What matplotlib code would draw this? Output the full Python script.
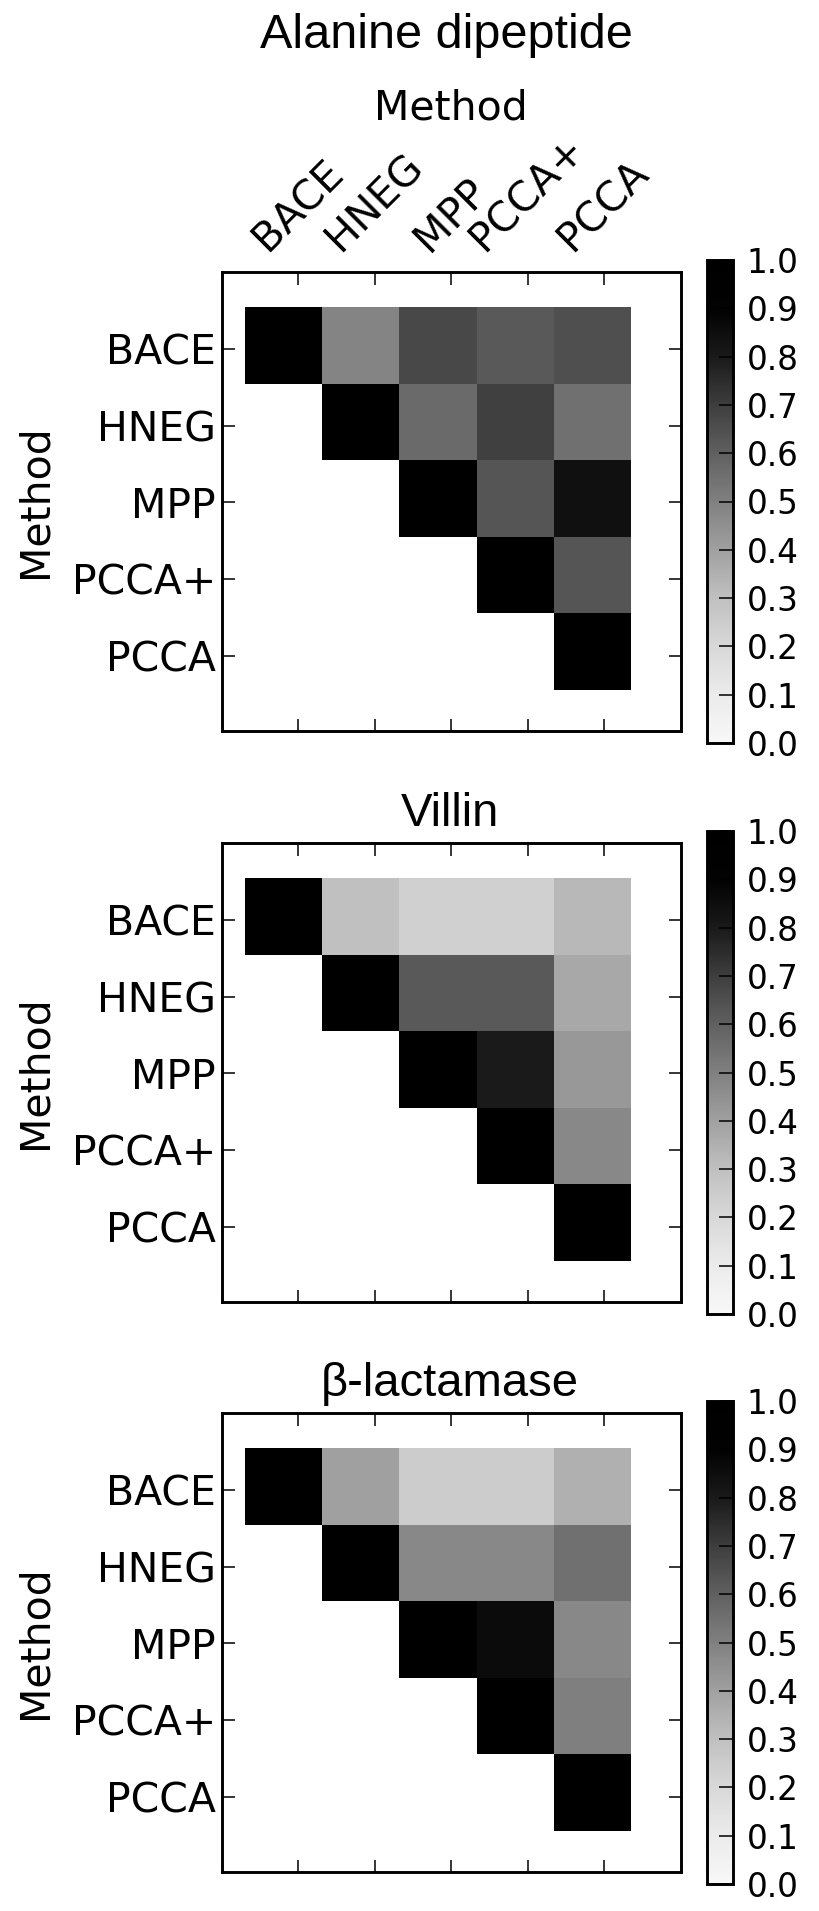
import numpy as np
import matplotlib
matplotlib.use("Agg")
import matplotlib.pyplot as plt
from matplotlib.colors import LinearSegmentedColormap

nan = np.nan

methods = ["BACE", "HNEG", "MPP", "PCCA+", "PCCA"]
titles = ["Alanine dipeptide", "Villin", "\u03b2-lactamase"]

# upper triangle of the method-vs-method similarity, row by row
alanine = [
    [1.0, 0.485, 0.67, 0.618, 0.65],
    [nan, 1.0, 0.57, 0.695, 0.55],
    [nan, nan, 1.0, 0.63, 0.84],
    [nan, nan, nan, 1.0, 0.63],
    [nan, nan, nan, nan, 1.0],
]
villin = [
    [1.0, 0.30, 0.233, 0.233, 0.325],
    [nan, 1.0, 0.618, 0.618, 0.375],
    [nan, nan, 1.0, 0.80, 0.425],
    [nan, nan, nan, 1.0, 0.475],
    [nan, nan, nan, nan, 1.0],
]
lactamase = [
    [1.0, 0.40, 0.25, 0.25, 0.35],
    [nan, 1.0, 0.475, 0.475, 0.55],
    [nan, nan, 1.0, 0.86, 0.475],
    [nan, nan, nan, 1.0, 0.50],
    [nan, nan, nan, nan, 1.0],
]
panels = [alanine, villin, lactamase]

cbar_ticks = np.arange(0, 1.01, 0.1)

# grey ramp as it shows up on the colorbar
grey_levels = [248, 235, 216, 192, 160, 128, 96, 62, 26, 2, 0]
cmap = LinearSegmentedColormap.from_list("greys", [(g / 255,) * 3 for g in grey_levels])
cmap.set_bad("white")

W, H = 819, 1911
fig = plt.figure(figsize=(W / 100, H / 100), dpi=100)

ax_left, ax_size = 221.5, 459
tops = [272, 843, 1413]

for k, (title, data) in enumerate(zip(titles, panels)):
    top = tops[k]
    ax = fig.add_axes([ax_left / W, (H - top - ax_size) / H, ax_size / W, ax_size / H])
    vals = np.ma.masked_invalid(np.array(data, dtype=float))
    mesh = ax.pcolormesh(np.arange(6), np.arange(6), vals, cmap=cmap, vmin=0, vmax=1)
    ax.set_xlim(-0.304, 5.641)
    ax.set_ylim(5.535, -0.457)

    ax.set_xticks(np.arange(5) * 0.99 + 0.69)
    ax.set_yticks(np.arange(5) + 0.55)
    ax.set_yticklabels(methods, fontsize=29.5)
    ax.tick_params(direction="in", length=9, width=1.1, top=True, right=True)
    ax.tick_params(axis="y", pad=4)
    if k == 0:
        ax.xaxis.tick_top()
        ax.tick_params(axis="x", bottom=True, pad=9)
        ax.set_xticklabels(methods, fontsize=29.5, rotation=45, ha="center", va="bottom")
        ax.text(0.5, 1.333, "Method", transform=ax.transAxes, fontsize=29.5,
                ha="center", va="baseline")
        ax.text(0.49, 1.488, title, transform=ax.transAxes, fontsize=35,
                family=["Liberation Sans", "DejaVu Sans"], ha="center", va="baseline")
    else:
        ax.set_xticklabels([])
        ax.text(0.497, 1.036, title, transform=ax.transAxes, fontsize=34,
                family=["Liberation Sans", "DejaVu Sans"], ha="center", va="baseline")
    for s in ax.spines.values():
        s.set_linewidth(2.1)

    ax.text(-0.406, 0.5, "Method", transform=ax.transAxes, fontsize=29.5,
            rotation=90, ha="center", va="center")

    cax = fig.add_axes([707 / W, (H - top - 471) / H, 26 / W, 483 / H])
    cb = fig.colorbar(mesh, cax=cax, ticks=cbar_ticks)
    cb.ax.set_yticklabels(["%.1f" % t for t in cbar_ticks], fontsize=23.5)
    cb.ax.tick_params(direction="in", length=10, width=1.1, pad=10)
    cb.outline.set_linewidth(2.1)

fig.savefig("out.png", dpi=100)
